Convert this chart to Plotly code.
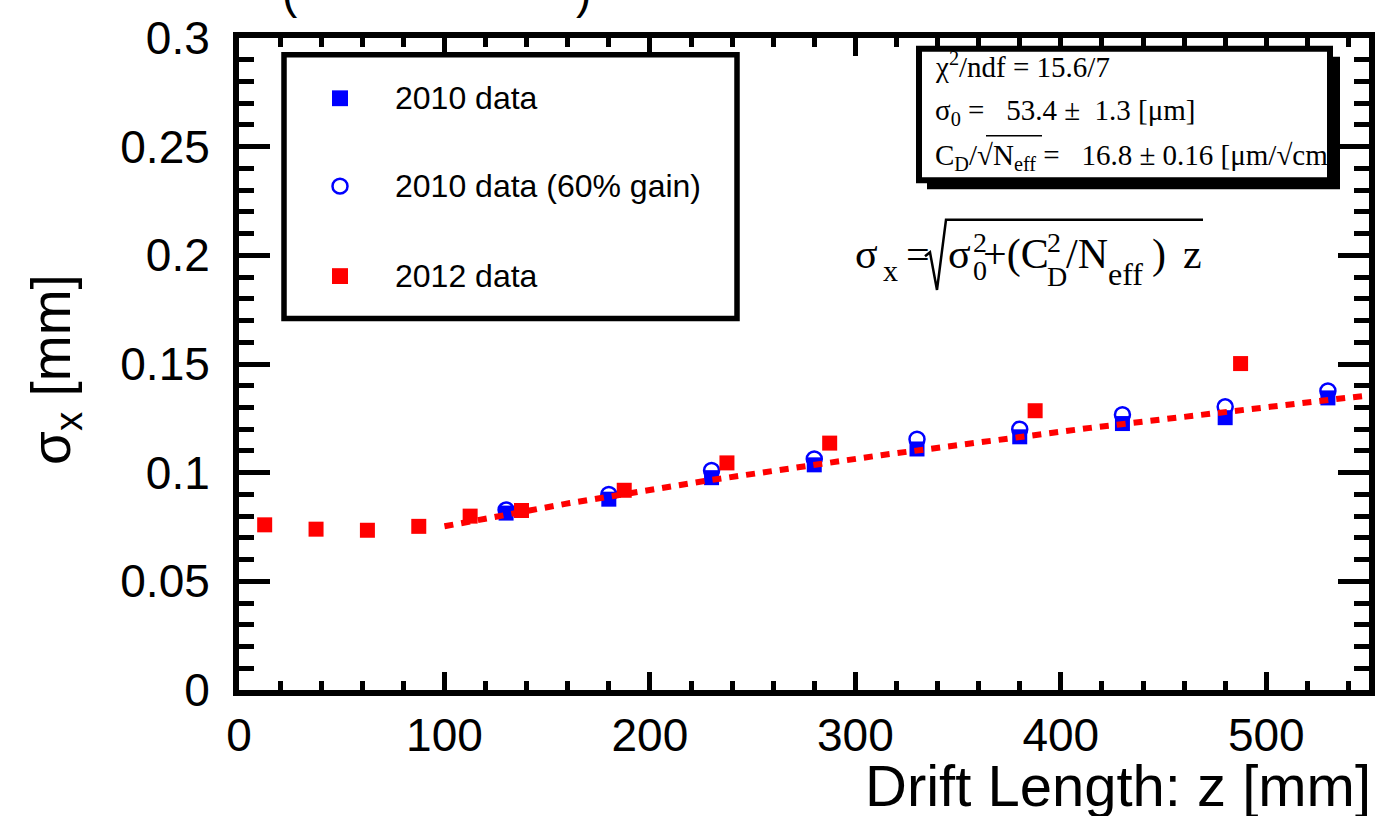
import numpy as np
import plotly.graph_objects as go

# ---------------- data ----------------
z_2010 = [130, 180, 230, 280, 330, 380, 430, 480, 530]
sig_2010 = [0.0814, 0.0878, 0.0977, 0.1036, 0.1109, 0.1165, 0.1226, 0.1253, 0.1344]
sig_2010_gain = [0.0828, 0.0900, 0.1010, 0.1063, 0.1154, 0.1200, 0.1267, 0.1303, 0.1376]

z_2012 = [12.5, 37.5, 62.5, 87.5, 112.5, 137.5, 187.5, 237.5, 287.5, 387.5, 487.5]
sig_2012 = [0.0760, 0.0740, 0.0735, 0.0753, 0.0800, 0.0826, 0.0919, 0.1045, 0.1136, 0.1285, 0.1502]

# fit parameters shown in the stats box
sigma0_um = 53.4           # [um]
cd_um_sqrtcm = 16.8        # [um/sqrt(cm)]
fit_range = [100, 550]     # [mm]

x_tickvals = [0, 100, 200, 300, 400, 500]
x_ticktext = ["0", "100", "200", "300", "400", "500"]
y_tickvals = [0, 0.05, 0.1, 0.15, 0.2, 0.25, 0.3]
y_ticktext = ["0", "0.05", "0.1", "0.15", "0.2", "0.25", "0.3"]

legend_labels = ["2010 data", "2010 data (60% gain)", "2012 data"]
stats_lines = [
    "χ<sup>2</sup>/ndf = 15.6/7",
    "σ<sub>0</sub> =\u00a0\u00a0 53.4 ±\u00a0 1.3 [μm]",
    "C<sub>D</sub>/√N<sub>eff</sub> =\u00a0\u00a0 16.8 ± 0.16 [μm/√cm",
]

# ---------------- layout helpers ----------------
W, H = 1400, 816
L, R, T, B = 239, 31, 30, 126
PW, PH = W - L - R, H - T - B


def px(x):
    return (x - L) / PW


def py(y):
    return (H - B - y) / PH


SANS = "Liberation Sans, Arial, Helvetica, sans-serif"
SERIF = "Liberation Serif, Times New Roman, serif"
BLUE = "#0000ff"
RED = "#ff0000"

# fit curve from the fitted parameters
z_fit = np.linspace(fit_range[0], fit_range[1], 200)
sig_fit = np.sqrt(sigma0_um ** 2 + cd_um_sqrtcm ** 2 * z_fit / 10.0) / 1000.0

fig = go.Figure()
fig.add_trace(go.Scatter(x=z_2010, y=sig_2010, mode="markers", name=legend_labels[0],
                         marker=dict(symbol="square", size=15, color=BLUE, line=dict(width=0))))
fig.add_trace(go.Scatter(x=z_2010, y=sig_2010_gain, mode="markers", name=legend_labels[1],
                         marker=dict(symbol="circle-open", size=15, color=BLUE, line=dict(width=2.5, color=BLUE))))
fig.add_trace(go.Scatter(x=z_2012, y=sig_2012, mode="markers", name=legend_labels[2],
                         marker=dict(symbol="square", size=15, color=RED, line=dict(width=0))))
fig.add_trace(go.Scatter(x=z_fit, y=sig_fit, mode="lines", name="fit",
                         line=dict(color=RED, width=6, dash="9px,8px")))

axis_common = dict(
    showline=True, linewidth=6, linecolor="black", mirror="allticks",
    ticks="inside", tickcolor="black", tickwidth=5,
    showgrid=False, zeroline=False,
    tickfont=dict(family=SANS, size=46, color="black"),
)
fig.update_xaxes(range=[0, 550], tickmode="array", tickvals=x_tickvals, ticktext=x_ticktext,
                 ticklen=18,
                 minor=dict(dtick=20, tick0=0, ticks="inside", ticklen=9, tickwidth=5,
                            tickcolor="black", showgrid=False),
                 **axis_common)
fig.update_yaxes(range=[0, 0.3], tickmode="array", tickvals=y_tickvals, ticktext=y_ticktext,
                 ticklen=31, ticklabelstandoff=14,
                 minor=dict(dtick=0.01, tick0=0, ticks="inside", ticklen=15, tickwidth=5,
                            tickcolor="black", showgrid=False),
                 **axis_common)

shapes = []
annotations = []


def text(t, x, y, size, family, xanchor="left", yanchor="middle", angle=0):
    annotations.append(dict(text=t, xref="paper", yref="paper", x=px(x), y=py(y),
                            xanchor=xanchor, yanchor=yanchor, textangle=angle, showarrow=False,
                            font=dict(family=family, size=size, color="black")))


# ---- legend box (drawn) ----
shapes.append(dict(type="rect", xref="paper", yref="paper", layer="above",
                   x0=px(284), x1=px(737), y0=py(47), y1=py(314),
                   line=dict(color="black", width=5.5), fillcolor="white"))
leg_y = [91, 180, 271]
shapes.append(dict(type="rect", xref="paper", yref="paper", layer="above",
                   x0=px(332), x1=px(348), y0=py(leg_y[0] - 8), y1=py(leg_y[0] + 8),
                   line=dict(width=0), fillcolor=BLUE))
shapes.append(dict(type="circle", xref="paper", yref="paper", layer="above",
                   x0=px(332.5), x1=px(347.5), y0=py(leg_y[1] - 7.5), y1=py(leg_y[1] + 7.5),
                   line=dict(width=2.5, color=BLUE), fillcolor="rgba(0,0,0,0)"))
shapes.append(dict(type="rect", xref="paper", yref="paper", layer="above",
                   x0=px(332), x1=px(348), y0=py(leg_y[2] - 8), y1=py(leg_y[2] + 8),
                   line=dict(width=0), fillcolor=RED))
for lab, yy in zip(legend_labels, leg_y):
    text(lab, 393, yy, 32, SANS)

# ---- stats box ----
shapes.append(dict(type="rect", xref="paper", yref="paper", layer="above",
                   x0=px(927), x1=px(1340), y0=py(49), y1=py(183),
                   line=dict(width=0), fillcolor="black"))
shapes.append(dict(type="rect", xref="paper", yref="paper", layer="above",
                   x0=px(919), x1=px(1330), y0=py(41), y1=py(174),
                   line=dict(color="black", width=6), fillcolor="white"))
for txt, yy in zip(stats_lines, [57, 105, 150]):
    text(txt, 933, yy, 29, SERIF)
shapes.append(dict(type="line", xref="paper", yref="paper", layer="above",
                   x0=px(986), x1=px(1042), y0=py(129), y1=py(129),
                   line=dict(color="black", width=1.5)))

# ---- formula  sigma_x = sqrt(sigma_0^2 + (C_D^2/N_eff) z) ----
MID = 249
formula_pieces = [
    ("σ", 853, MID, 42), ("x", 881, 265, 30), ("=", 904, MID, 42),
    ("σ", 946, MID, 42), ("2", 971, 237, 28), ("0", 971, 265, 28),
    ("+(C", 981, MID, 42), ("2", 1045, 237, 28), ("D", 1045, 271, 28),
    ("/N", 1064, MID, 42), ("eff", 1106, 269, 32), (")", 1150, MID, 42), ("z", 1181, MID, 42),
]
for t, xx, yy, s in formula_pieces:
    text(t, xx, yy, s, SERIF)
path = "M {a},{b} L {c},{d} L {e},{f} L {g},{h} L {i},{j}".format(
    a=px(925), b=py(251), c=px(930), d=py(247), e=px(937), f=py(285),
    g=px(946), h=py(214), i=px(1203), j=py(214))
shapes.append(dict(type="path", xref="paper", yref="paper", layer="above", path=path,
                   line=dict(color="black", width=2.5)))

# ---- axis titles ----
text("Drift Length: z [mm]", 1373, 787, 58, SANS, xanchor="right")
text("σ<sub>x</sub> [mm]", 55, 366, 55, SANS, xanchor="center", angle=-90)

# ---- partially visible title at the very top ----
for t, xx in [("(", 290), (")", 583)]:
    text(t, xx, 12, 46, SANS, xanchor="center", yanchor="bottom")

fig.update_layout(
    width=W, height=H,
    margin=dict(l=L, r=R, t=T, b=B, pad=0),
    paper_bgcolor="white", plot_bgcolor="white",
    showlegend=False,
    shapes=shapes, annotations=annotations,
)

fig.write_html("out.html")
